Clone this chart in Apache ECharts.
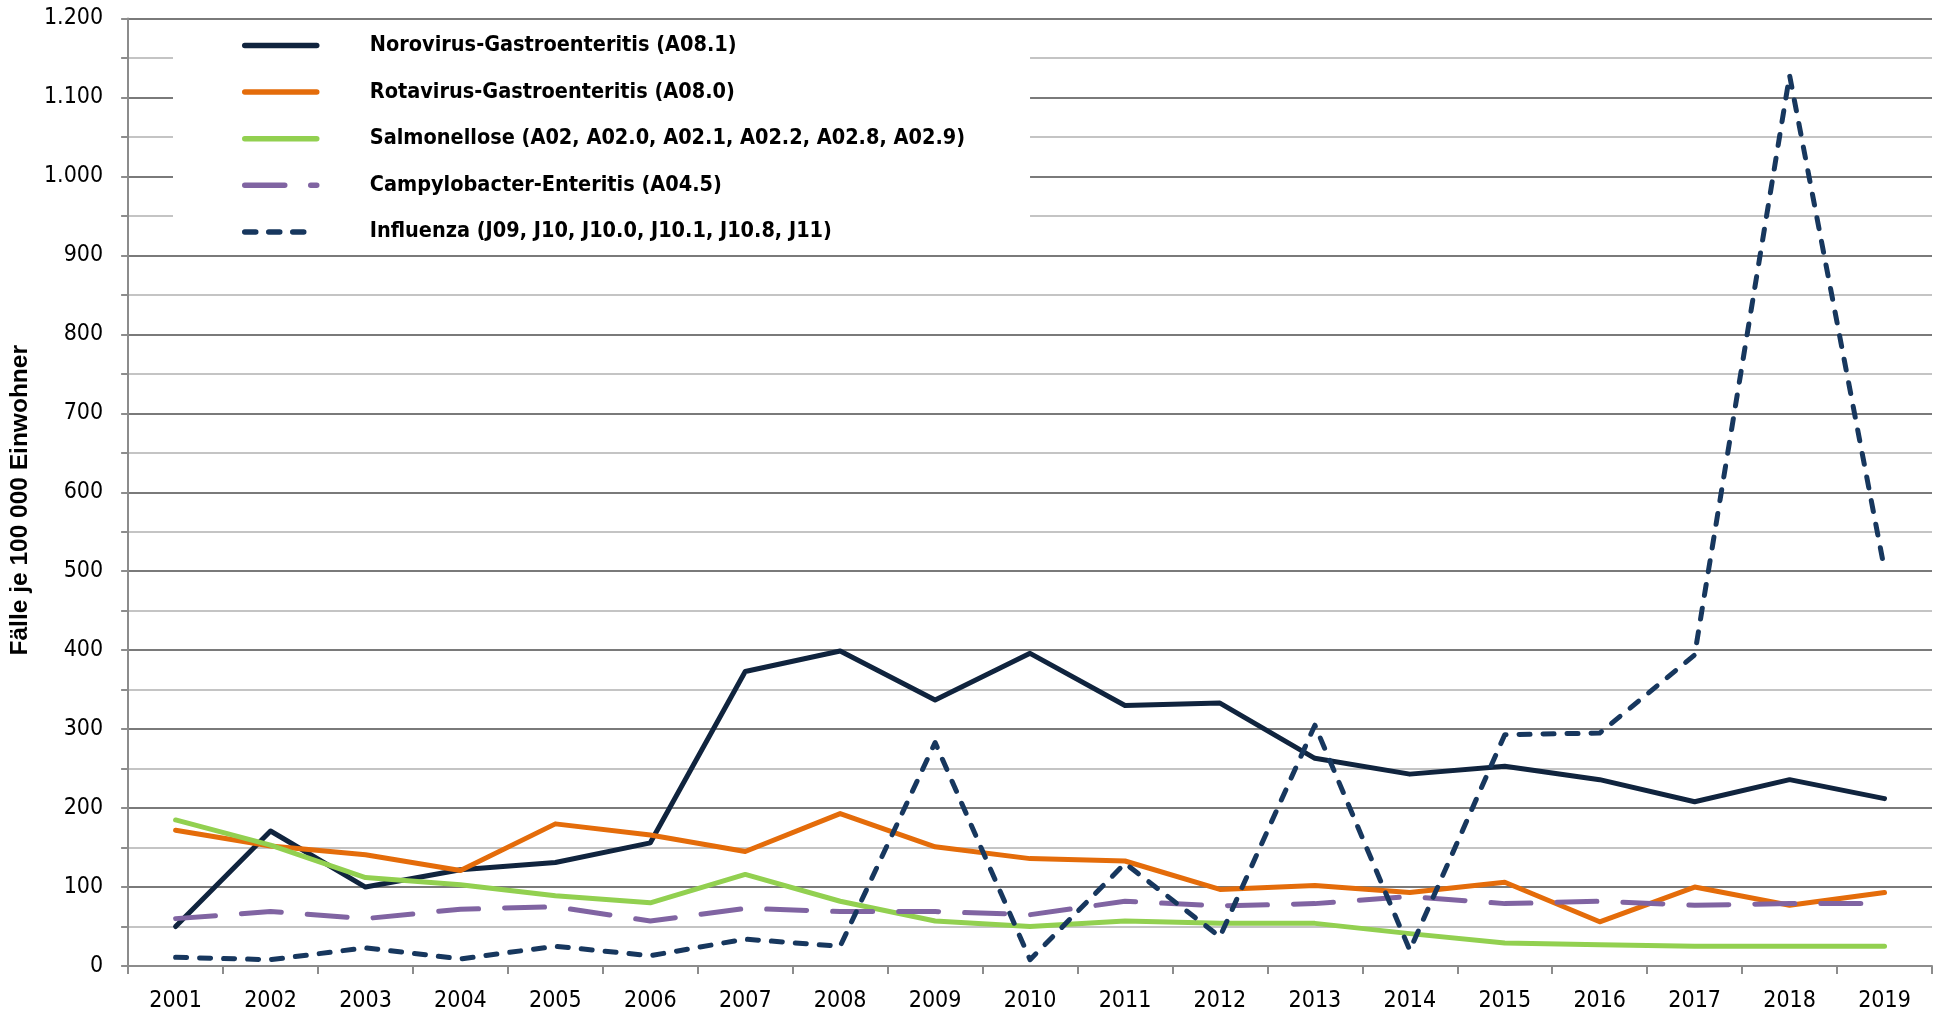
<!DOCTYPE html>
<html>
<head>
<meta charset="utf-8">
<script src="https://cdn.jsdelivr.net/npm/echarts@6/dist/echarts.min.js"></script>
<style>
  html, body { margin: 0; padding: 0; background: #fff; }
  #main { width: 1939px; height: 1017px; }
</style>
</head>
<body>
<div id="main"></div>
<script>
const years = ['2001','2002','2003','2004','2005','2006','2007','2008','2009','2010',
               '2011','2012','2013','2014','2015','2016','2017','2018','2019'];

const norovirus = [50, 171, 100, 122, 131, 156, 373, 399, 337, 396, 330, 333, 263, 243, 253, 236, 208, 236, 212];
const rotavirus = [172, 152, 141, 121, 180, 166, 145, 193, 151, 136, 133, 97, 102, 93, 106, 56, 100, 77, 93];
const salmonellose = [185, 153, 112, 103, 89, 80, 116, 82, 57, 50, 57, 54, 54, 41, 29, 27, 25, 25, 25];
const campylobacter = [60, 69, 60, 72, 75, 57, 73, 69, 69, 65, 82, 76, 79, 88, 79, 82, 77, 79, 79];
const influenza = [11, 8, 23, 9, 25, 13, 34, 25, 283, 8, 130, 37, 305, 20, 293, 295, 394, 1128, 502];

const seriesNames = [
  'Norovirus-Gastroenteritis (A08.1)',
  'Rotavirus-Gastroenteritis (A08.0)',
  'Salmonellose (A02, A02.0, A02.1, A02.2, A02.8, A02.9)',
  'Campylobacter-Enteritis (A04.5)',
  'Influenza (J09, J10, J10.0, J10.1, J10.8, J11)'
];

const tickFont = '"DejaVu Sans Condensed", "Liberation Sans Narrow", sans-serif';
const legendFont = '"DejaVu Sans Condensed", "Liberation Sans Narrow", sans-serif';

function fmtDe(v) {
  if (v >= 1000) return Math.floor(v / 1000) + '.' + String(v % 1000).padStart(3, '0');
  return String(v);
}

const chart = echarts.init(document.getElementById('main'));

const option = {
  animation: false,
  grid: { left: 126, right: 7, top: 18.5, bottom: 51, containLabel: false },
  legend: {
    orient: 'vertical',
    left: 173,
    top: 20,
    padding: [14.5, 65, 8, 69],
    backgroundColor: '#ffffff',
    itemWidth: 72,
    itemHeight: 14,
    itemGap: 24.6,
    itemStyle: { opacity: 0 },
    lineStyle: { width: 5.5 },
    textStyle: {
      fontFamily: legendFont,
      fontWeight: 'bold',
      fontSize: 21.5,
      lineHeight: 22,
      color: '#000',
      padding: [0, 0, 0, 48]
    },
    data: seriesNames
  },
  xAxis: {
    type: 'category',
    data: years,
    boundaryGap: true,
    axisLine: { lineStyle: { color: '#8c8c8c', width: 2 } },
    axisTick: { show: true, length: 8, lineStyle: { color: '#8c8c8c', width: 2 } },
    axisLabel: { color: '#000', fontFamily: tickFont, fontSize: 23, margin: 24 },
    splitLine: { show: false }
  },
  yAxis: {
    type: 'value',
    min: 0,
    max: 1200,
    interval: 50,
    name: 'Fälle je 100 000 Einwohner',
    nameLocation: 'middle',
    nameRotate: 90,
    nameGap: 87,
    nameTextStyle: { fontFamily: '"Liberation Sans", Arial, sans-serif', fontWeight: 'bold', fontSize: 24.5, color: '#000', padding: [0, 16, 0, 0] },
    axisLine: { show: true, lineStyle: { color: '#8c8c8c', width: 2 } },
    axisTick: { show: true, length: 7, lineStyle: { color: '#8c8c8c', width: 2 } },
    axisLabel: {
      color: '#000', fontFamily: tickFont, fontSize: 23, margin: 25,
      formatter: function (v) { return v % 100 === 0 ? fmtDe(v) : ''; }
    },
    splitLine: { show: true, lineStyle: { color: ['#7a7a7a', '#c4c4c4'], width: 2 } }
  },
  series: [
    {
      name: seriesNames[0], type: 'line', data: norovirus, symbol: 'none',
      lineStyle: { color: '#10243e', width: 5, cap: 'round', join: 'round' },
      itemStyle: { color: '#10243e' }
    },
    {
      name: seriesNames[1], type: 'line', data: rotavirus, symbol: 'none',
      lineStyle: { color: '#e46c0a', width: 5, cap: 'round', join: 'round' },
      itemStyle: { color: '#e46c0a' }
    },
    {
      name: seriesNames[2], type: 'line', data: salmonellose, symbol: 'none',
      lineStyle: { color: '#92d050', width: 5, cap: 'round', join: 'round' },
      itemStyle: { color: '#92d050' }
    },
    {
      name: seriesNames[3], type: 'line', data: campylobacter, symbol: 'none',
      lineStyle: { color: '#8064a2', width: 5, type: [40, 26], cap: 'round', join: 'round' },
      itemStyle: { color: '#8064a2' }
    },
    {
      name: seriesNames[4], type: 'line', data: influenza, symbol: 'none',
      lineStyle: { color: '#17375e', width: 5, type: [11, 13], cap: 'round', join: 'round' },
      itemStyle: { color: '#17375e' }
    }
  ]
};

chart.setOption(option);
</script>
</body>
</html>
